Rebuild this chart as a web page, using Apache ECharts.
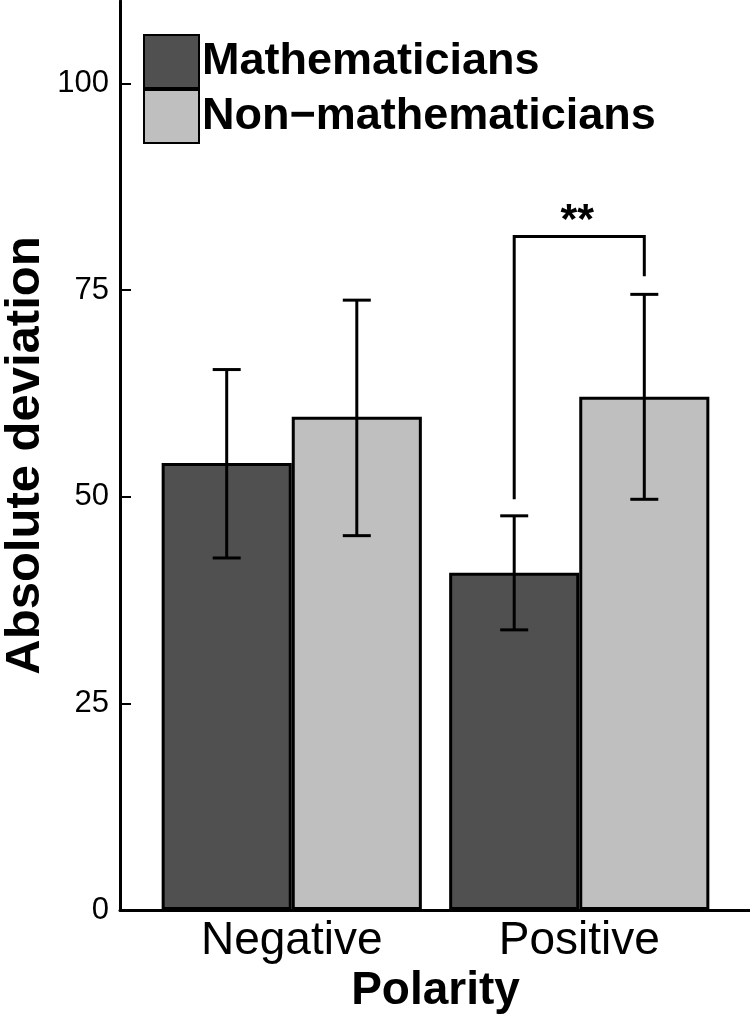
<!DOCTYPE html>
<html>
<head>
<meta charset="utf-8">
<script src="https://cdn.jsdelivr.net/npm/echarts@6/dist/echarts.min.js"></script>
<style>
  html, body { margin: 0; padding: 0; background: #fff; }
  #chart { width: 750px; height: 1016px; }
</style>
</head>
<body>
<div id="chart"></div>
<script>
// data
const categories = ['Negative', 'Positive'];
const seriesNames = ['Mathematicians', 'Non\u2212mathematicians'];
const mathMeans = [54.1, 40.8];
const nonMathMeans = [59.7, 62.1];
const mathLow = [42.6, 33.9];
const mathHigh = [65.4, 47.7];
const nonMathLow = [45.3, 49.7];
const nonMathHigh = [73.8, 74.5];
const yTicks = [0, 25, 50, 75, 100];
// significance bracket over the Positive pair
const bracketCat = 1;
const bracketTop = 81.5;
const bracketLeftEnd = 49.7;
const bracketRightEnd = 76.7;
const bracketLabel = '**';

const font = '"Liberation Sans", Arial, sans-serif';
const dark = '#505050';
const light = '#bfbfbf';
const catGap = 0.095; // barCategoryGap

let myChart = echarts.init(document.getElementById('chart'));

// error bar data: [catIndex, low, high, seriesIndex]
let errData = [];
categories.forEach((c, i) => {
    errData.push([i, mathLow[i], mathHigh[i], 0]);
    errData.push([i, nonMathLow[i], nonMathHigh[i], 1]);
});

function barOffset(api, s) {
    let band = api.size([1, 0])[0];
    let w = band * (1 - catGap) / 2;
    return s === 0 ? -w / 2 : w / 2;
}

function renderErr(params, api) {
    let cat = api.value(0);
    let s = api.value(3);
    let lo = api.coord([cat, api.value(1)]);
    let hi = api.coord([cat, api.value(2)]);
    let x = lo[0] + barOffset(api, s);
    let cap = 14;
    let st = { stroke: '#000', lineWidth: 3 };
    return {
        type: 'group',
        children: [
            { type: 'line', shape: { x1: x, y1: lo[1], x2: x, y2: hi[1] }, style: st },
            { type: 'line', shape: { x1: x - cap, y1: lo[1], x2: x + cap, y2: lo[1] }, style: st },
            { type: 'line', shape: { x1: x - cap, y1: hi[1], x2: x + cap, y2: hi[1] }, style: st }
        ]
    };
}

function renderBracket(params, api) {
    let cat = api.value(0);
    let top = api.coord([cat, api.value(1)]);
    let l = api.coord([cat, api.value(2)]);
    let r = api.coord([cat, api.value(3)]);
    let xl = top[0] + barOffset(api, 0);
    let xr = top[0] + barOffset(api, 1);
    return {
        type: 'group',
        children: [
            {
                type: 'polyline',
                shape: { points: [[xl, l[1]], [xl, top[1]], [xr, top[1]], [xr, r[1]]] },
                style: { stroke: '#000', lineWidth: 3, fill: null }
            },
            {
                type: 'text',
                style: {
                    x: (xl + xr) / 2 - 2, y: top[1] - 15,
                    text: bracketLabel, fill: '#000',
                    font: 'bold 43px ' + font,
                    align: 'center', verticalAlign: 'middle'
                }
            }
        ]
    };
}

let option = {
    animation: false,
    textStyle: { fontFamily: font },
    legend: {
        orient: 'vertical',
        left: 143,
        top: 34,
        padding: 0,
        itemWidth: 55,
        itemHeight: 53,
        itemGap: 0,
        icon: 'rect',
        data: seriesNames,
        textStyle: { fontSize: 45, fontWeight: 'bold', color: '#000', fontFamily: font, padding: [0, 0, 0, -2] }
    },
    grid: [
        { left: 120, right: 0, top: 1, bottom: 106, outerBoundsMode: 'none', containLabel: false },
        { left: 148, right: 27, top: 1, bottom: 106, outerBoundsMode: 'none', containLabel: false }
    ],
    xAxis: [
        {
            gridIndex: 0, type: 'value', min: 0, max: 1,
            axisLine: { lineStyle: { color: '#000', width: 3 } },
            axisTick: { show: false }, axisLabel: { show: false }, splitLine: { show: false }
        },
        {
            gridIndex: 1, type: 'category', data: categories,
            axisLine: { show: false }, axisTick: { show: false },
            axisLabel: { fontSize: 46, color: '#000', margin: 8, fontFamily: font },
            name: 'Polarity', nameLocation: 'middle', nameGap: 58, nameMoveOverlap: false,
            nameTextStyle: { fontSize: 46, fontWeight: 'bold', color: '#000', fontFamily: font }
        }
    ],
    yAxis: [
        {
            gridIndex: 0, type: 'value', min: 0, max: 110,
            axisLine: { show: true, lineStyle: { color: '#000', width: 3 } },
            axisTick: { show: true, inside: true, length: 11, customValues: yTicks, lineStyle: { color: '#000', width: 2 } },
            axisLabel: { fontSize: 31, color: '#000', margin: 11, customValues: yTicks, fontFamily: font },
            splitLine: { show: false },
            name: 'Absolute deviation', nameLocation: 'middle', nameGap: 70, nameRotate: 90, nameMoveOverlap: false,
            nameTextStyle: { fontSize: 49, fontWeight: 'bold', color: '#000', fontFamily: font }
        },
        {
            gridIndex: 1, type: 'value', min: 0, max: 110, show: false
        }
    ],
    series: [
        {
            name: seriesNames[0], type: 'bar', xAxisIndex: 1, yAxisIndex: 1,
            barGap: '0%', barCategoryGap: (catGap * 100) + '%',
            itemStyle: { color: dark, borderColor: '#000', borderWidth: 3 },
            data: mathMeans
        },
        {
            name: seriesNames[1], type: 'bar', xAxisIndex: 1, yAxisIndex: 1,
            barGap: '0%', barCategoryGap: (catGap * 100) + '%',
            itemStyle: { color: light, borderColor: '#000', borderWidth: 3 },
            data: nonMathMeans
        },
        {
            type: 'custom', xAxisIndex: 1, yAxisIndex: 1, z: 5,
            renderItem: renderErr, data: errData
        },
        {
            type: 'custom', xAxisIndex: 1, yAxisIndex: 1, z: 5,
            renderItem: renderBracket,
            data: [[bracketCat, bracketTop, bracketLeftEnd, bracketRightEnd]]
        }
    ]
};
myChart.setOption(option);
</script>
</body>
</html>
